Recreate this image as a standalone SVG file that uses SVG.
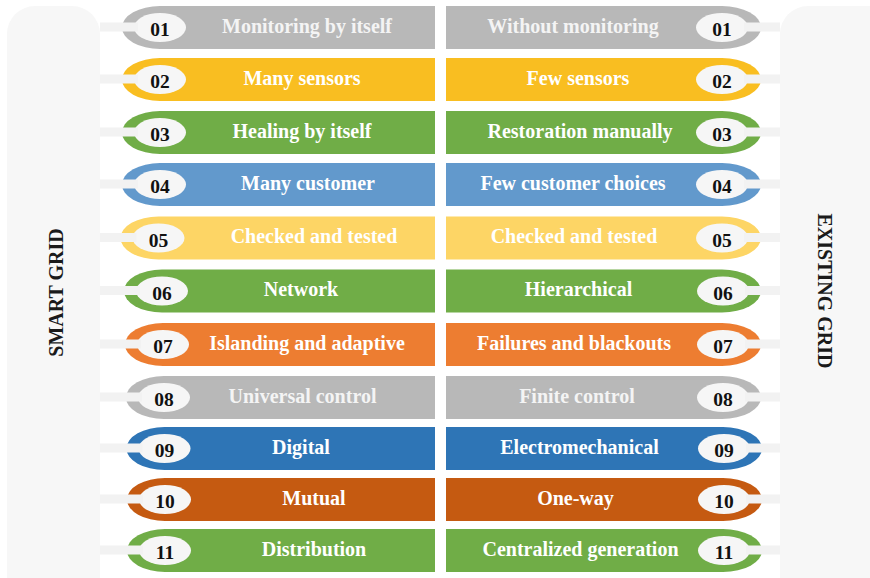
<svg xmlns="http://www.w3.org/2000/svg" width="870" height="578" viewBox="0 0 870 578">
  <style>
    .panel { fill: #f7f7f7; }
    .panel-title { font-family: "Liberation Serif", "Times New Roman", serif; font-weight: bold; font-size: 20px; fill: #1a1a1a; text-anchor: middle; }
    .badge { fill: #f6f6f6; }
    .num { font-family: "Liberation Serif", "Times New Roman", serif; font-weight: bold; font-size: 19.5px; fill: #111; text-anchor: middle; }
    .label { font-family: "Liberation Serif", "Times New Roman", serif; font-weight: bold; font-size: 20px; fill: #ffffff; text-anchor: middle; }
    .label.soft { fill: #f4f4f4; }
    .link { fill: #f2f2f2; }
    .gray { fill: #b8b8b8; }
    .gold { fill: #f9be21; }
    .green { fill: #70ad47; }
    .sky { fill: #6299cc; }
    .sand { fill: #fdd565; }
    .orange { fill: #ed7d31; }
    .blue { fill: #2e75b6; }
    .rust { fill: #c55a11; }
  </style>

  <!-- side panels -->
  <g id="smart-grid">
    <rect class="panel" x="7" y="6" width="93" height="600" rx="28"/>
    <text class="panel-title" transform="translate(63 292.5) rotate(-90)">SMART GRID</text>
  </g>
  <g id="existing-grid">
    <rect class="panel" x="780" y="6" width="120" height="600" rx="28"/>
    <text class="panel-title" transform="translate(818 291) rotate(90)">EXISTING GRID</text>
  </g>

  <!-- smart grid features (left column) -->
  <g id="smart-01">
    <path class="gray" d="M435 6 H160 A38 21.5 0 0 0 160 49 H435 Z"/>
    <ellipse class="badge" cx="160" cy="27.5" rx="26" ry="14.5"/>
    <text class="num" x="160" y="36">01</text>
    <text class="label soft" x="307" y="32.5">Monitoring by itself</text>
  </g>
  <g id="smart-02">
    <path class="gold" d="M435 58 H160 A38 21.5 0 0 0 160 101 H435 Z"/>
    <ellipse class="badge" cx="160" cy="79.5" rx="26" ry="14.5"/>
    <text class="num" x="160" y="88">02</text>
    <text class="label" x="302" y="84.5">Many sensors</text>
  </g>
  <g id="smart-03">
    <path class="green" d="M435 111 H160 A38 21.5 0 0 0 160 154 H435 Z"/>
    <ellipse class="badge" cx="160" cy="132.5" rx="26" ry="14.5"/>
    <text class="num" x="160" y="141">03</text>
    <text class="label" x="302" y="137.5">Healing by itself</text>
  </g>
  <g id="smart-04">
    <path class="sky" d="M435 163 H160 A38 21.5 0 0 0 160 206 H435 Z"/>
    <ellipse class="badge" cx="160" cy="184.5" rx="26" ry="14.5"/>
    <text class="num" x="160" y="193">04</text>
    <text class="label" x="308" y="189.5">Many customer</text>
  </g>
  <g id="smart-05">
    <path class="sand" d="M435 216.5 H158.5 A38 21.5 0 0 0 158.5 259.5 H435 Z"/>
    <ellipse class="badge" cx="158.5" cy="238" rx="26" ry="14.5"/>
    <text class="num" x="158.5" y="246.5">05</text>
    <text class="label" x="314" y="243">Checked and tested</text>
  </g>
  <g id="smart-06">
    <path class="green" d="M435 269.5 H162 A38 21.5 0 0 0 162 312.5 H435 Z"/>
    <ellipse class="badge" cx="162" cy="291" rx="26" ry="14.5"/>
    <text class="num" x="162" y="299.5">06</text>
    <text class="label" x="301" y="296">Network</text>
  </g>
  <g id="smart-07">
    <path class="orange" d="M435 323 H163 A38 21.5 0 0 0 163 366 H435 Z"/>
    <ellipse class="badge" cx="163" cy="344.5" rx="26" ry="14.5"/>
    <text class="num" x="163" y="353">07</text>
    <text class="label" x="307" y="349.5">Islanding and adaptive</text>
  </g>
  <g id="smart-08">
    <path class="gray" d="M435 376 H164 A38 21.5 0 0 0 164 419 H435 Z"/>
    <ellipse class="badge" cx="164" cy="397.5" rx="26" ry="14.5"/>
    <text class="num" x="164" y="406">08</text>
    <text class="label soft" x="302.5" y="402.5">Universal control</text>
  </g>
  <g id="smart-09">
    <path class="blue" d="M435 427 H164.5 A38 21.5 0 0 0 164.5 470 H435 Z"/>
    <ellipse class="badge" cx="164.5" cy="448.5" rx="26" ry="14.5"/>
    <text class="num" x="164.5" y="457">09</text>
    <text class="label" x="301" y="453.5">Digital</text>
  </g>
  <g id="smart-10">
    <path class="rust" d="M435 478 H165 A38 21.5 0 0 0 165 521 H435 Z"/>
    <ellipse class="badge" cx="165" cy="499.5" rx="26" ry="14.5"/>
    <text class="num" x="165" y="508">10</text>
    <text class="label" x="314" y="504.5">Mutual</text>
  </g>
  <g id="smart-11">
    <path class="green" d="M435 529 H165 A38 21.5 0 0 0 165 572 H435 Z"/>
    <ellipse class="badge" cx="165" cy="550.5" rx="26" ry="14.5"/>
    <text class="num" x="165" y="559">11</text>
    <text class="label" x="314" y="555.5">Distribution</text>
  </g>

  <!-- existing grid features (right column) -->
  <g id="existing-01">
    <path class="gray" d="M446 6 H722 A39 21.5 0 0 1 722 49 H446 Z"/>
    <ellipse class="badge" cx="722" cy="27.5" rx="26" ry="14.5"/>
    <text class="num" x="722" y="36">01</text>
    <text class="label soft" x="573" y="32.5">Without monitoring</text>
  </g>
  <g id="existing-02">
    <path class="gold" d="M446 58 H722 A39 21.5 0 0 1 722 101 H446 Z"/>
    <ellipse class="badge" cx="722" cy="79.5" rx="26" ry="14.5"/>
    <text class="num" x="722" y="88">02</text>
    <text class="label" x="578" y="84.5">Few sensors</text>
  </g>
  <g id="existing-03">
    <path class="green" d="M446 111 H722 A39 21.5 0 0 1 722 154 H446 Z"/>
    <ellipse class="badge" cx="722" cy="132.5" rx="26" ry="14.5"/>
    <text class="num" x="722" y="141">03</text>
    <text class="label" x="580" y="137.5">Restoration manually</text>
  </g>
  <g id="existing-04">
    <path class="sky" d="M446 163 H722 A39 21.5 0 0 1 722 206 H446 Z"/>
    <ellipse class="badge" cx="722" cy="184.5" rx="26" ry="14.5"/>
    <text class="num" x="722" y="193">04</text>
    <text class="label" x="573" y="189.5">Few customer choices</text>
  </g>
  <g id="existing-05">
    <path class="sand" d="M446 216.5 H722 A39 21.5 0 0 1 722 259.5 H446 Z"/>
    <ellipse class="badge" cx="722" cy="238" rx="26" ry="14.5"/>
    <text class="num" x="722" y="246.5">05</text>
    <text class="label" x="574" y="243">Checked and tested</text>
  </g>
  <g id="existing-06">
    <path class="green" d="M446 269.5 H722 A39 21.5 0 0 1 722 312.5 H446 Z"/>
    <ellipse class="badge" cx="723" cy="291" rx="26" ry="14.5"/>
    <text class="num" x="723" y="299.5">06</text>
    <text class="label" x="578.5" y="296">Hierarchical</text>
  </g>
  <g id="existing-07">
    <path class="orange" d="M446 323 H722 A39 21.5 0 0 1 722 366 H446 Z"/>
    <ellipse class="badge" cx="723" cy="344.5" rx="26" ry="14.5"/>
    <text class="num" x="723" y="353">07</text>
    <text class="label" x="574" y="349.5">Failures and blackouts</text>
  </g>
  <g id="existing-08">
    <path class="gray" d="M446 376 H722 A39 21.5 0 0 1 722 419 H446 Z"/>
    <ellipse class="badge" cx="723" cy="397.5" rx="26" ry="14.5"/>
    <text class="num" x="723" y="406">08</text>
    <text class="label soft" x="577" y="402.5">Finite control</text>
  </g>
  <g id="existing-09">
    <path class="blue" d="M446 427 H723 A39 21.5 0 0 1 723 470 H446 Z"/>
    <ellipse class="badge" cx="724" cy="448.5" rx="26" ry="14.5"/>
    <text class="num" x="724" y="457">09</text>
    <text class="label" x="579.5" y="453.5">Electromechanical</text>
  </g>
  <g id="existing-10">
    <path class="rust" d="M446 478 H723 A39 21.5 0 0 1 723 521 H446 Z"/>
    <ellipse class="badge" cx="724" cy="499.5" rx="26" ry="14.5"/>
    <text class="num" x="724" y="508">10</text>
    <text class="label" x="575.5" y="504.5">One-way</text>
  </g>
  <g id="existing-11">
    <path class="green" d="M446 529 H723 A39 21.5 0 0 1 723 572 H446 Z"/>
    <ellipse class="badge" cx="724" cy="550.5" rx="26" ry="14.5"/>
    <text class="num" x="724" y="559">11</text>
    <text class="label" x="580.5" y="555.5">Centralized generation</text>
  </g>

  <!-- stems joining each badge to its side panel -->
  <g id="connectors">
    <rect class="link" x="100" y="22.5" width="38" height="9"/>
    <rect class="link" x="100" y="74.5" width="38" height="9"/>
    <rect class="link" x="100" y="127.5" width="38" height="9"/>
    <rect class="link" x="100" y="179.5" width="38" height="9"/>
    <rect class="link" x="100" y="233" width="36.5" height="9"/>
    <rect class="link" x="100" y="286" width="40" height="9"/>
    <rect class="link" x="100" y="339.5" width="41" height="9"/>
    <rect class="link" x="100" y="392.5" width="42" height="9"/>
    <rect class="link" x="100" y="443.5" width="42.5" height="9"/>
    <rect class="link" x="100" y="494.5" width="43" height="9"/>
    <rect class="link" x="100" y="545.5" width="43" height="9"/>

    <rect class="link" x="744" y="22.5" width="36" height="9"/>
    <rect class="link" x="744" y="74.5" width="36" height="9"/>
    <rect class="link" x="744" y="127.5" width="36" height="9"/>
    <rect class="link" x="744" y="179.5" width="36" height="9"/>
    <rect class="link" x="744" y="233" width="36" height="9"/>
    <rect class="link" x="745" y="286" width="35" height="9"/>
    <rect class="link" x="745" y="339.5" width="35" height="9"/>
    <rect class="link" x="745" y="392.5" width="35" height="9"/>
    <rect class="link" x="746" y="443.5" width="34" height="9"/>
    <rect class="link" x="746" y="494.5" width="34" height="9"/>
    <rect class="link" x="746" y="545.5" width="34" height="9"/>
  </g>
</svg>
